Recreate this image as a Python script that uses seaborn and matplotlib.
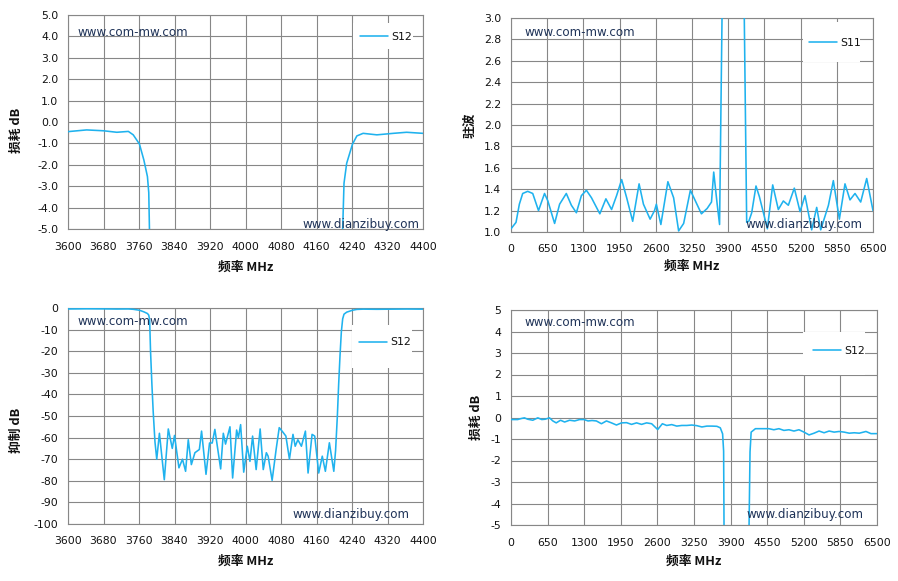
import matplotlib
matplotlib.use("Agg")
import matplotlib.pyplot as plt
import seaborn as sns
import pandas as pd
from matplotlib.patches import Rectangle

# ---------------- data ----------------
# narrow-band S12 (3600-4400 MHz), used for insertion loss and rejection views
nb_freq = [3600, 3642, 3680, 3710, 3736, 3747, 3761, 3771, 3779, 3782, 3784, 3786, 3789, 3792,
           3796, 3800, 3806, 3817, 3826, 3835, 3840, 3850, 3858, 3865, 3871, 3878, 3886, 3896,
           3901, 3911, 3919, 3925, 3931, 3944, 3950, 3955, 3965, 3971, 3980, 3984, 3989, 3996,
           4004, 4010, 4016, 4024, 4033, 4040, 4047, 4051, 4060, 4069, 4076, 4084, 4091, 4099,
           4107, 4112, 4118, 4126, 4135, 4141, 4150, 4156, 4165, 4173, 4180, 4189, 4199, 4203,
           4207, 4210, 4213, 4216, 4219, 4222, 4228, 4241, 4251, 4265, 4296, 4333, 4363, 4400]
nb_s12 = [-0.45, -0.37, -0.41, -0.48, -0.44, -0.60, -1.03, -1.78, -2.55, -3.3, -5.5, -20, -35, -48,
          -62, -70, -58, -79.5, -56, -65, -59, -74, -70, -75.6, -61, -72.5, -67, -65.5,
          -57, -77, -62.5, -62.5, -56.2, -74.5, -58, -63, -55, -78.7, -56.5, -60, -54, -76,
          -64, -71, -59.3, -74.8, -56, -74.8, -67, -68.6, -79.8, -65.5, -55.4, -57.4, -59.3, -70,
          -58.5, -64, -61, -64, -57, -76.4, -58.5, -59.3, -76.4, -68.6, -75.6, -62.4, -75.6, -66,
          -50, -35, -22, -11, -5, -2.86, -1.93, -1.04, -0.65, -0.53, -0.60, -0.53, -0.48, -0.53]

# wide-band S11 VSWR (0-6500 MHz)
wb11_freq = [0, 90, 150, 210, 300, 390, 494, 602, 662, 783, 873, 993, 1084, 1174, 1264, 1354,
             1445, 1595, 1704, 1806, 1896, 1987, 2077, 2185, 2300, 2378, 2498, 2577, 2610, 2691,
             2817, 2920, 3010, 3100, 3221, 3311, 3419, 3522, 3600, 3640, 3702, 3745, 3789, 3800,
             4180, 4189, 4232, 4270, 4322, 4399, 4460, 4561, 4603, 4699, 4800, 4890, 4980, 5087,
             5190, 5279, 5399, 5489, 5561, 5700, 5788, 5896, 5997, 6087, 6177, 6279, 6387, 6500]
wb11_vswr = [1.03, 1.09, 1.26, 1.36, 1.38, 1.36, 1.20, 1.36, 1.29, 1.08, 1.26, 1.36, 1.25, 1.18, 1.34, 1.39,
             1.32, 1.17, 1.31, 1.21, 1.34, 1.49, 1.32, 1.10, 1.45, 1.26, 1.12, 1.20, 1.26, 1.07,
             1.47, 1.32, 1.01, 1.08, 1.39, 1.29, 1.17, 1.22, 1.28, 1.56, 1.26, 1.07, 3.0, 6.0,
             6.0, 3.0, 1.09, 1.10, 1.18, 1.43, 1.33, 1.12, 1.03, 1.44, 1.21, 1.29, 1.25, 1.41,
             1.19, 1.34, 1.02, 1.23, 1.02, 1.25, 1.48, 1.12, 1.45, 1.30, 1.36, 1.28, 1.50, 1.20]

# wide-band S12 insertion loss (0-6500 MHz)
wb12_freq = [0, 119, 178, 238, 297, 387, 476, 547, 607, 684, 743, 803, 880, 952, 1041, 1130, 1219,
             1296, 1368, 1439, 1516, 1606, 1695, 1784, 1873, 1963, 2052, 2141, 2230, 2319, 2408,
             2498, 2605, 2688, 2765, 2855, 2944, 3033, 3122, 3211, 3301, 3390, 3479, 3568, 3657,
             3717, 3758, 3776, 3783, 3800, 4210, 4228, 4245, 4265, 4341, 4460, 4579, 4668, 4758,
             4847, 4936, 5025, 5114, 5204, 5293, 5382, 5471, 5560, 5650, 5739, 5828, 5917, 6007,
             6096, 6185, 6304, 6393, 6500]
wb12_s12 = [-0.095, -0.095, -0.05, -0.016, -0.08, -0.127, -0.016, -0.095, -0.08, -0.016, -0.16, -0.25,
            -0.127, -0.21, -0.127, -0.16, -0.095, -0.095, -0.16, -0.14, -0.16, -0.29, -0.16, -0.25,
            -0.35, -0.25, -0.24, -0.32, -0.25, -0.32, -0.25, -0.29, -0.56, -0.29, -0.37, -0.33,
            -0.40, -0.37, -0.37, -0.35, -0.38, -0.44, -0.40, -0.40, -0.41, -0.48, -0.76, -1.56,
            -5.0, -30, -30, -5.0, -1.6, -0.68, -0.52, -0.52, -0.52, -0.57, -0.52, -0.60, -0.57,
            -0.63, -0.57, -0.68, -0.81, -0.73, -0.63, -0.71, -0.63, -0.68, -0.65, -0.68, -0.73,
            -0.71, -0.73, -0.65, -0.75, -0.75]

nb_xticks = list(range(3600, 4401, 80))
wb_xticks = list(range(0, 6501, 650))
tl_yticks = [5.0, 4.0, 3.0, 2.0, 1.0, 0.0, -1.0, -2.0, -3.0, -4.0, -5.0]
tr_yticks = [1.0, 1.2, 1.4, 1.6, 1.8, 2.0, 2.2, 2.4, 2.6, 2.8, 3.0]
bl_yticks = list(range(0, -101, -10))
br_yticks = list(range(-5, 6, 1))

xlabel_text = "频率 MHz"
ylabels = ["损耗 dB", "驻波", "抑制 dB", "损耗 dB"]
legend_labels = ["S12", "S11", "S12", "S12"]
wm_top = "www.com-mw.com"
wm_bottom = "www.dianzibuy.com"

# ---------------- style ----------------
sns.set_style("white")
plt.rcParams['font.family'] = ['DejaVu Sans', 'Noto Sans CJK SC']
plt.rcParams['axes.unicode_minus'] = False
LABEL_FAMILY = ['Noto Sans CJK SC', 'DejaVu Sans']

LINE = "#1fb2ee"
GRID = "#878787"
WM = "#1f3358"

fig = plt.figure(figsize=(8.98, 5.81), dpi=100)
W, H = 898, 581

def axes_px(l, r, t, b):
    return fig.add_axes([l / W, (H - b) / H, (r - l) / W, (b - t) / H])

ax_tl = axes_px(68, 423, 15, 229)
ax_tr = axes_px(511, 873, 18, 232)
ax_bl = axes_px(68, 423, 308, 524)
ax_br = axes_px(511, 877, 310, 525)

cfg = [
    dict(ax=ax_tl, x=nb_freq, y=nb_s12, xt=nb_xticks, yt=tl_yticks, xl=(3600, 4400), yl=(-5, 5),
         fmt="{:.1f}", ylab=ylabels[0], leg=legend_labels[0], ylab_pos=(-0.1445, 0.463), xlab_y=-0.178,
         box=(0.803, 0.841, 0.972, 0.963), legpos=(0.8225, 0.897),
         wm1=(0.028, 0.919), wm2=(0.989, 0.019)),
    dict(ax=ax_tr, x=wb11_freq, y=wb11_vswr, xt=wb_xticks, yt=tr_yticks, xl=(0, 6500), yl=(1.0, 3.0),
         fmt="{:.1f}", ylab=ylabels[1], leg=legend_labels[1], ylab_pos=(-0.113, 0.5), xlab_y=-0.162,
         box=(0.807, 0.794, 0.964, 0.981), legpos=(0.823, 0.885),
         wm1=(0.036, 0.933), wm2=(0.972, 0.036)),
    dict(ax=ax_bl, x=nb_freq, y=nb_s12, xt=nb_xticks, yt=bl_yticks, xl=(3600, 4400), yl=(-100, 0),
         fmt="{:.0f}", ylab=ylabels[2], leg=legend_labels[2], ylab_pos=(-0.1445, 0.435), xlab_y=-0.1745,
         box=(0.800, 0.722, 0.969, 0.921), legpos=(0.820, 0.841),
         wm1=(0.026, 0.937), wm2=(0.963, 0.045)),
    dict(ax=ax_br, x=wb12_freq, y=wb12_s12, xt=wb_xticks, yt=br_yticks, xl=(0, 6500), yl=(-5, 5),
         fmt="{:.0f}", ylab=ylabels[3], leg=legend_labels[3], ylab_pos=(-0.0956, 0.5), xlab_y=-0.171,
         box=(0.798, 0.698, 0.967, 0.898), legpos=(0.825, 0.809),
         wm1=(0.036, 0.943), wm2=(0.962, 0.050)),
]

for c in cfg:
    ax = c["ax"]
    df = pd.DataFrame({"f": c["x"], "v": c["y"]})
    sns.lineplot(data=df, x="f", y="v", ax=ax, color=LINE, linewidth=1.15,
                 estimator=None, sort=False, label=c["leg"], zorder=3)
    ax.set_xlim(*c["xl"])
    ax.set_ylim(*c["yl"])
    ax.set_xticks(c["xt"])
    ax.set_yticks(c["yt"])
    ax.set_yticklabels([c["fmt"].format(v) for v in c["yt"]])
    ax.set_xticklabels([str(v) for v in c["xt"]])
    ax.set_axisbelow(True)
    ax.grid(True, color=GRID, linewidth=0.8)
    for s in ax.spines.values():
        s.set_color(GRID)
        s.set_linewidth(0.8)
        s.set_visible(True)
    ax.tick_params(axis="both", which="major", direction="out", length=4, width=0.8,
                   color=GRID, labelsize=7.8, labelcolor="#111111", pad=3)
    ax.tick_params(axis="x", pad=5)
    ax.set_xlabel(xlabel_text, fontsize=9.2, fontweight="bold", color="#111111", family=LABEL_FAMILY)
    ax.xaxis.set_label_coords(0.5, c["xlab_y"])
    ax.xaxis.label.set_va("center")
    ax.set_ylabel(c["ylab"], fontsize=9.2, fontweight="bold", color="#111111", family=LABEL_FAMILY)
    ax.yaxis.set_label_coords(*c["ylab_pos"])
    ax.yaxis.label.set_va("center")
    # legend background box
    x0, y0, x1, y1 = c["box"]
    ax.add_patch(Rectangle((x0, y0), x1 - x0, y1 - y0, transform=ax.transAxes,
                           facecolor="white", edgecolor="none", zorder=2))
    leg = ax.legend(loc="center left", bbox_to_anchor=c["legpos"], frameon=False,
                    borderpad=0, borderaxespad=0, handlelength=2.6, handletextpad=0.25,
                    fontsize=7.8)
    for t in leg.get_texts():
        t.set_color("#111111")
    leg.set_zorder(5)
    # watermarks
    ax.text(c["wm1"][0], c["wm1"][1], wm_top, transform=ax.transAxes, ha="left", va="center",
            fontsize=8.6, color=WM, zorder=6)
    ax.text(c["wm2"][0], c["wm2"][1], wm_bottom, transform=ax.transAxes, ha="right", va="center",
            fontsize=8.6, color=WM, zorder=6)

fig.savefig("out.png", dpi=100)
